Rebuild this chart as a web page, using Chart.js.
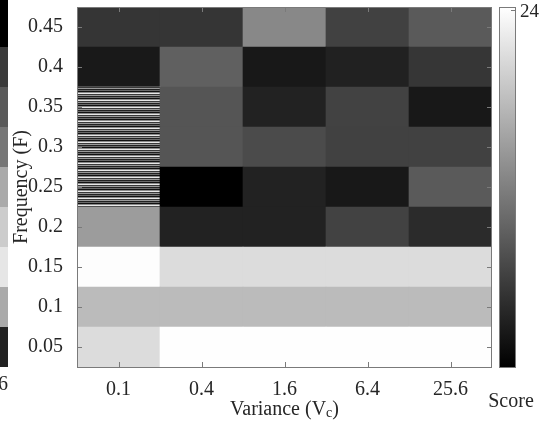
<!DOCTYPE html>
<html>
<head>
<meta charset="utf-8">
<script src="https://cdn.jsdelivr.net/npm/chart.js@4/dist/chart.umd.min.js"></script>
<style>
  html, body { margin: 0; padding: 0; background: #fff; }
  #wrap { width: 540px; height: 421px; }
</style>
</head>
<body>
<div id="wrap"><canvas id="heat" width="540" height="421"></canvas></div>
<script>
  // 데이터
  const variances = ["0.1", "0.4", "1.6", "6.4", "25.6"];
  const freqs = [0.05, 0.1, 0.15, 0.2, 0.25, 0.3, 0.35, 0.4, 0.45];
  // score per row (bottom -> top), columns follow variances; null = no data (striped)
  const scoreRows = [
    [20.7, 23.9, 23.9, 23.9, 23.9], // 0.05
    [17.6, 17.6, 17.6, 17.6, 17.6], // 0.1
    [23.8, 20.7, 20.7, 20.7, 20.7], // 0.15
    [14.7, 3.2, 3.2, 6.2, 4.0],     // 0.2
    [null, 0.0, 3.2, 2.3, 8.5],     // 0.25
    [null, 8.0, 7.1, 6.1, 6.1],     // 0.3
    [null, 8.0, 3.2, 6.2, 2.3],     // 0.35
    [2.4, 9.0, 2.3, 3.1, 5.1],      // 0.4
    [5.0, 5.0, 12.8, 6.1, 8.5],     // 0.45
  ];
  const scoreMax = 24;
  // 왼쪽 잘린 컬러바 (옆 subplot 흔적), bottom -> top
  const leftStripGrays = [34, 170, 230, 204, 170, 119, 90, 59, 0];

  const serif = "'Liberation Serif', 'DejaVu Serif', serif";
  const axisGray = "#7a7a7a";
  const textColor = "#262626";

  function grayFor(v) {
    const g = Math.round(Math.max(0, Math.min(1, v / scoreMax)) * 255);
    return `rgb(${g},${g},${g})`;
  }

  // NaN 셀용 줄무늬 패턴
  function makeStripePattern(ctx) {
    const c = document.createElement("canvas");
    const rows = ["#111", "#8a8a8a", "#e8e8e8", "#3a3a3a", "#9a9a9a", "#222", "#6a6a6a"];
    c.width = 4;
    c.height = rows.length;
    const pc = c.getContext("2d");
    rows.forEach((col, i) => { pc.fillStyle = col; pc.fillRect(0, i, 4, 1); });
    return ctx.createPattern(c, "repeat");
  }

  const canvas = document.getElementById("heat");
  const ctx = canvas.getContext("2d");
  const stripe = makeStripePattern(ctx);
  const half = 0.025;

  const datasets = freqs.map((f, r) => ({
    label: "F=" + f,
    data: variances.map(() => [f - half, f + half]),
    backgroundColor: scoreRows[r].map((v) => (v === null ? stripe : grayFor(v))),
    borderWidth: 0,
    barPercentage: 1,
    categoryPercentage: 1,
    grouped: false,
  }));

  const decorPlugin = {
    id: "decor",
    beforeDraw(chart) {
      const { ctx: c } = chart;
      const ys = chart.scales.y;
      // left strip (cut colorbar of neighbouring plot)
      leftStripGrays.forEach((g, i) => {
        const top = i === freqs.length - 1 ? 0 : ys.getPixelForValue(freqs[i] + half);
        const bot = ys.getPixelForValue(freqs[i] - half);
        c.fillStyle = `rgb(${g},${g},${g})`;
        c.fillRect(0, top, 8, bot - top);
      });
    },
    afterDraw(chart) {
      const { ctx: c, chartArea: a } = chart;
      const xs = chart.scales.x;
      const ys = chart.scales.y;
      c.save();
      c.strokeStyle = axisGray;
      c.lineWidth = 1;
      // frame
      c.strokeRect(Math.round(a.left) + 0.5, Math.round(a.top) + 0.5,
        Math.round(a.right - a.left) - 1, Math.round(a.bottom - a.top));
      // inward ticks
      c.beginPath();
      xs.ticks.forEach((t, i) => {
        const x = Math.round(xs.getPixelForTick(i)) + 0.5;
        c.moveTo(x, a.bottom); c.lineTo(x, a.bottom - 5);
        c.moveTo(x, a.top); c.lineTo(x, a.top + 5);
      });
      ys.ticks.forEach((t, i) => {
        const y = Math.round(ys.getPixelForTick(i)) + 0.5;
        c.moveTo(a.left, y); c.lineTo(a.left + 5, y);
        c.moveTo(a.right, y); c.lineTo(a.right - 5, y);
      });
      c.stroke();

      // colorbar
      const cbL = 499, cbR = 516;
      const grad = c.createLinearGradient(0, a.top, 0, a.bottom);
      grad.addColorStop(0, "#fff");
      grad.addColorStop(1, "#000");
      c.fillStyle = grad;
      c.fillRect(cbL, a.top, cbR - cbL, a.bottom - a.top);
      c.strokeRect(cbL + 0.5, Math.round(a.top) + 0.5, cbR - cbL - 1, Math.round(a.bottom - a.top));
      c.beginPath();
      c.moveTo(cbR - 5, a.top + 3.5); c.lineTo(cbR, a.top + 3.5);
      c.stroke();

      c.fillStyle = textColor;
      c.font = "19px " + serif;
      c.textBaseline = "middle";
      c.textAlign = "left";
      c.fillText(String(scoreMax), 520, a.top + 5);
      c.font = "20px " + serif;
      c.textAlign = "center";
      c.fillText("Score", 511, 402);
      c.textAlign = "right";
      c.fillText("6", 8, 385);

      // x title with subscript
      const main = "Variance (V";
      const sub = "c";
      c.font = "20px " + serif;
      const w1 = c.measureText(main).width;
      const w3 = c.measureText(")").width;
      c.font = "14px " + serif;
      const w2 = c.measureText(sub).width;
      const cx = (a.left + a.right) / 2;
      let x = cx - (w1 + w2 + w3) / 2;
      const ty = 410;
      c.textAlign = "left";
      c.font = "20px " + serif;
      c.fillText(main, x, ty);
      x += w1;
      c.font = "14px " + serif;
      c.fillText(sub, x, ty + 3);
      x += w2;
      c.font = "20px " + serif;
      c.fillText(")", x, ty);
      c.restore();
    },
  };

  new Chart(ctx, {
    type: "bar",
    data: { labels: variances, datasets },
    options: {
      responsive: false,
      animation: false,
      devicePixelRatio: 1,
      layout: { padding: { left: 0, right: 48, top: 7, bottom: 0 } },
      plugins: { legend: { display: false }, tooltip: { enabled: false } },
      scales: {
        x: {
          type: "category",
          offset: true,
          grid: { display: false, drawTicks: false },
          border: { display: false },
          ticks: { color: textColor, font: { family: serif, size: 20 }, padding: 11, maxRotation: 0 },
          afterFit(scale) { scale.height = 54; scale.paddingLeft = 0; scale.paddingRight = 0; },
        },
        y: {
          type: "linear",
          min: 0.025,
          max: 0.475,
          grid: { display: false, drawTicks: false },
          border: { display: false },
          afterBuildTicks(scale) { scale.ticks = freqs.map((v) => ({ value: v })); },
          ticks: {
            color: textColor,
            font: { family: serif, size: 20 },
            padding: 14,
            callback: (v) => String(Number(v.toFixed(2))),
          },
          title: {
            display: true,
            text: "Frequency (F)",
            color: textColor,
            font: { family: serif, size: 20 },
            padding: { top: 10, bottom: 0 },
          },
          afterFit(scale) { scale.width = 77; scale.paddingTop = 0; scale.paddingBottom = 0; },
        },
      },
    },
    plugins: [decorPlugin],
  });
</script>
</body>
</html>
